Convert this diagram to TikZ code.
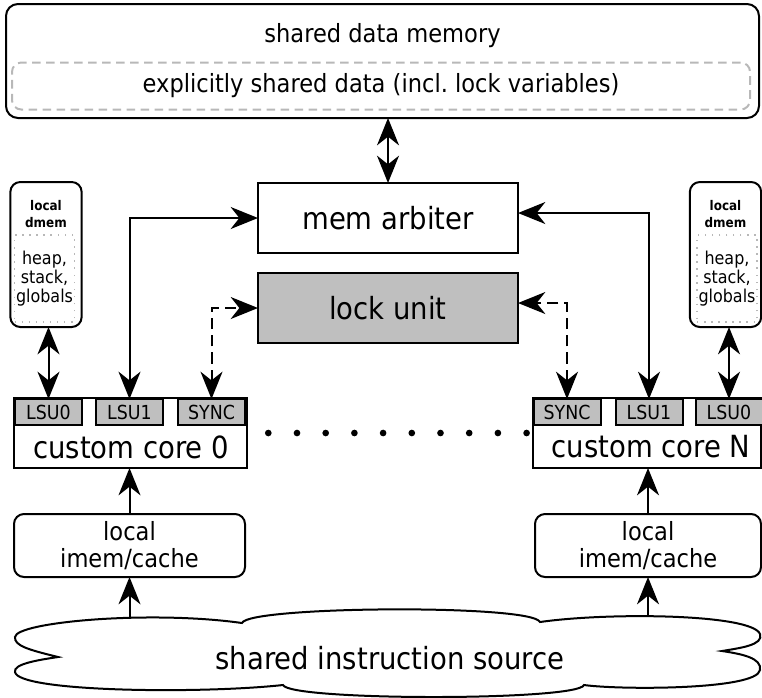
\documentclass[tikz,border=0pt]{standalone}
\usepackage{fontspec}
\setmainfont{DejaVu Sans}[FakeStretch=0.9]
\usetikzlibrary{arrows.meta}

\definecolor{unitgray}{gray}{0.75}
\definecolor{framegray}{gray}{0.72}
\definecolor{dotgray}{gray}{0.72}

\tikzset{
  >={Stealth[length=20.5pt,width=16.5pt,inset=6.5pt]},
  frame/.style={draw, line width=1.5pt, inner sep=0pt, outer sep=0pt},
  rframe/.style={frame, rounded corners=7.5pt},
  bigfont/.style={font=\fontsize{22.9}{26}\selectfont},
  midfont/.style={font=\fontsize{18.8}{20.3}\selectfont},
  unitfont/.style={font=\fontsize{14.5}{16}\selectfont},
  smallfont/.style={font=\fontsize{13.3}{14.25}\selectfont},
  tinybold/.style={font=\fontsize{10}{12.75}\selectfont\bfseries},
  unitbox/.style={frame, fill=unitgray, minimum width=50.25pt, minimum height=19.5pt, unitfont},
  corebox/.style={frame, minimum height=52.5pt},
  dmembox/.style={rframe, minimum width=53.5pt, minimum height=108.75pt},
  dmemarea/.style={draw=dotgray, line width=1.1pt, dash pattern=on 1.1pt off 4.2pt,
    minimum width=45pt, minimum height=65.25pt, inner sep=0pt, smallfont, align=center},
  imembox/.style={rframe, minimum height=47.25pt, midfont, align=center},
  link/.style={line width=1.5pt, ->},
  duplex/.style={line width=1.5pt, <->},
  synclink/.style={duplex, dash pattern=on 8.5pt off 4.5pt},
  dotmark/.style={circle, fill, inner sep=0pt, minimum size=5pt},
}

\begin{document}
\begin{tikzpicture}[x=0.75pt,y=-0.75pt]
\useasboundingbox (0,0) rectangle (762,697);

% shared data memory with its explicitly shared region
\node[rframe, rounded corners=9pt, minimum width=564.75pt, minimum height=85.5pt] (mem) at (382.5,61) {};
\node[midfont] (memtitle) at (382.5,36) {shared data memory};
\node[draw=framegray, line width=1.5pt, dash pattern=on 6.5pt off 4pt, rounded corners=7pt,
      minimum width=553.5pt, minimum height=35.25pt, inner sep=0pt, midfont] (shared) at (381,86)
      {explicitly shared data (incl.\ lock variables)};

% arbiter and lock unit
\node[frame, minimum width=195pt, minimum height=52.5pt, bigfont] (arb) at (388,218) {mem arbiter};
\node[frame, fill=unitgray, minimum width=195pt, minimum height=52.5pt, bigfont] (lock) at (388,308) {lock unit};

% local data memories
\node[dmembox] (dmemL) at (46,254.5) {};
\node[tinybold, align=center] (dmemLt) at (46,214) {local\\dmem};
\node[dmemarea] (dmemLin) at (44.5,278.5) {heap,\\stack,\\globals};

\node[dmembox] (dmemR) at (725.5,254.5) {};
\node[tinybold, align=center] (dmemRt) at (725.5,214) {local\\dmem};
\node[dmemarea] (dmemRin) at (727,278.5) {heap,\\stack,\\globals};

% core 0
\node[corebox, minimum width=174.75pt] (core0) at (130.5,433) {};
\node[bigfont] (core0t) at (131,447) {custom core 0};
\node[unitbox] (lsu0L) at (48.5,412) {LSU0};
\node[unitbox] (lsu1L) at (129.5,412) {LSU1};
\node[unitbox] (syncL) at (211.5,412) {SYNC};

% core N
\node[corebox, minimum width=171pt] (coreN) at (647,433) {};
\node[bigfont] (coreNt) at (651,447) {custom core N};
\node[unitbox] (syncR) at (567,412) {SYNC};
\node[unitbox] (lsu1R) at (649,412) {LSU1};
\node[unitbox] (lsu0R) at (729,412) {LSU0};

% cores in between
\foreach \i in {0,...,9}
  \node[dotmark] (dot\i) at (268.3+28.7*\i,433) {};

% local instruction memories
\node[imembox, minimum width=173.25pt] (imem0) at (129.5,545.5) {local\\imem/cache};
\node[imembox, minimum width=169.5pt] (imemN) at (648,545.5) {local\\imem/cache};

% shared instruction source
\node[bigfont] (src) at (390,658) {shared instruction source};
\draw[line width=1.5pt]
  (58,657) .. controls (30,650) and (14,646) .. (15,637)
  .. controls (16,622) and (150,610) .. (242,623)
  .. controls (248,606) and (532,604) .. (540,622)
  .. controls (610,612) and (752,614) .. (760,634)
  .. controls (764,645) and (740,648) .. (722,651)
  .. controls (742,654) and (762,658) .. (760,670)
  .. controls (757,690) and (620,690) .. (584,685)
  .. controls (578,701) and (290,701) .. (283,685)
  .. controls (200,694) and (18,692) .. (15,672)
  .. controls (13,664) and (38,660) .. (58,657) -- cycle;
\coordinate (srcL) at (129.5,618);
\coordinate (srcR) at (648,616.5);

% connectors
\draw[duplex] (arb.north) -- (arb.north |- mem.south);
\draw[duplex] (lsu1L.north) |- (arb.west);
\draw[duplex] (lsu1R.north) |- ([yshift=3.75pt]arb.east);
\draw[synclink] (syncL.north) |- (lock.west);
\draw[synclink] (syncR.north) |- ([yshift=3.75pt]lock.east);
\draw[duplex] (lsu0L.north) -- (lsu0L.north |- dmemL.south);
\draw[duplex] (lsu0R.north) -- (lsu0R.north |- dmemR.south);
\draw[link] (imem0.north) -- (imem0.north |- core0.south);
\draw[link] (imemN.north) -- (imemN.north |- coreN.south);
\draw[link] (srcL) -- (imem0.south);
\draw[link] (srcR) -- (imemN.south);
\end{tikzpicture}
\end{document}
